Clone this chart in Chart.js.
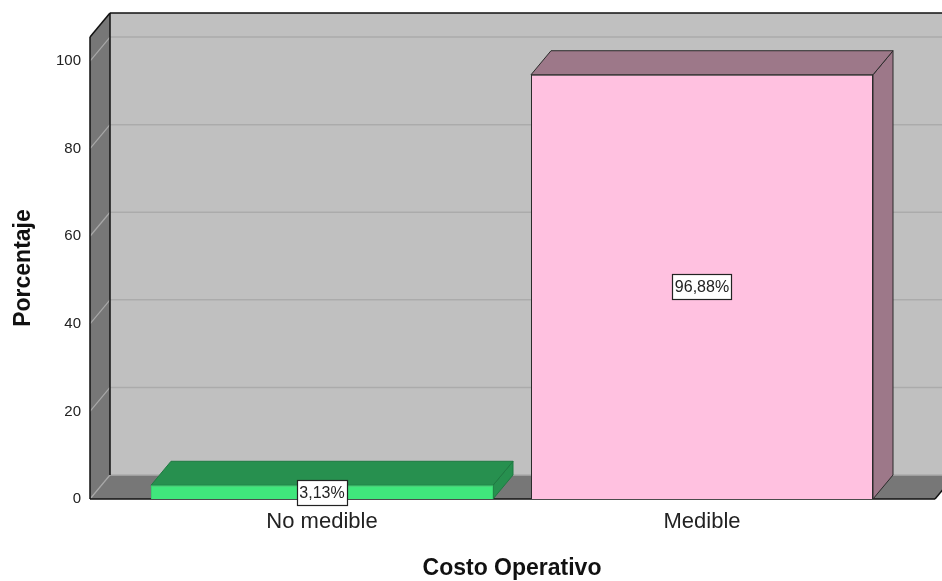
<!DOCTYPE html>
<html><head><meta charset="utf-8">
<script src="https://cdn.jsdelivr.net/npm/chart.js@4.4.0/dist/chart.umd.min.js"></script>
<style>html,body{margin:0;padding:0;background:#fff;} canvas{display:block;}</style>
</head><body>
<canvas id="c" width="942" height="581"></canvas>
<script>
// ---- data ----
const categories = ['No medible', 'Medible'];
const percentages = [3.13, 96.88];
const yTicks = [0, 20, 40, 60, 80, 100];
const yMax = 105.5;
const xTitle = 'Costo Operativo';
const yTitle = 'Porcentaje';

// ---- style ----
const FONT = "'Liberation Sans', Arial, sans-serif";
const DX = 20, DY = -24;
const LEFT_EXT = 42, RIGHT_EXT = 43;
const frontColors = ['#40E77C', '#FFC1E0'];
const shadeColors = ['#27904F', '#9D7889'];
const edgeColors = ['#3AD470', '#2b2b2b'];
const shadeEdge = ['#1f7a42', '#2b2b2b'];

function poly(ctx, pts, fill, stroke, lw) {
  ctx.beginPath();
  ctx.moveTo(pts[0][0], pts[0][1]);
  for (let i = 1; i < pts.length; i++) ctx.lineTo(pts[i][0], pts[i][1]);
  ctx.closePath();
  if (fill) { ctx.fillStyle = fill; ctx.fill(); }
  if (stroke) { ctx.strokeStyle = stroke; ctx.lineWidth = lw || 1; ctx.stroke(); }
}
function seg(ctx, x1, y1, x2, y2, color, lw) {
  ctx.beginPath();
  ctx.moveTo(x1, y1); ctx.lineTo(x2, y2);
  ctx.strokeStyle = color; ctx.lineWidth = lw; ctx.stroke();
}

const plugin3d = {
  id: 'threeD',
  beforeDatasetsDraw(chart) {
    const ctx = chart.ctx, a = chart.chartArea, y = chart.scales.y;
    const xl = a.left - LEFT_EXT, xr = a.right + RIGHT_EXT;
    const y0 = y.getPixelForValue(0), yt = a.top;
    const W = chart.width;
    ctx.save();
    ctx.fillStyle = '#C0C0C0';
    ctx.fillRect(xl + DX, yt + DY, W, y0 - yt);
    poly(ctx, [[xl, yt], [xl + DX, yt + DY], [xl + DX, y0 + DY], [xl, y0]], '#777777');
    poly(ctx, [[xl, y0], [xl + DX, y0 + DY], [xr + DX, y0 + DY], [xr, y0]], '#777777');
    yTicks.forEach(v => {
      const p = y.getPixelForValue(v);
      seg(ctx, xl + DX, p + DY, W, p + DY, '#ABABAB', 1.5);
      seg(ctx, xl, p, xl + DX, p + DY, '#A8A8A8', 1.2);
    });
    const E = '#111';
    seg(ctx, xl, yt, xl, y0, E, 1.5);
    seg(ctx, xl + DX, yt + DY, xl + DX, y0 + DY, E, 1.5);
    seg(ctx, xl, yt, xl + DX, yt + DY, E, 1.5);
    seg(ctx, xl + DX, yt + DY, W, yt + DY, E, 1.5);
    seg(ctx, xl, y0, xr, y0, E, 1.5);
    seg(ctx, xr, y0, xr + DX, y0 + DY, E, 1.5);
    const meta = chart.getDatasetMeta(0);
    meta.data.forEach((bar, i) => {
      const l = bar.x - bar.width / 2, r = bar.x + bar.width / 2, t = bar.y, b = bar.base;
      poly(ctx, [[r, t], [r + DX, t + DY], [r + DX, b + DY], [r, b]], shadeColors[i], shadeEdge[i], 1);
      poly(ctx, [[l, t], [l + DX, t + DY], [r + DX, t + DY], [r, t]], shadeColors[i], shadeEdge[i], 1);
    });
    ctx.restore();
  },
  afterDatasetsDraw(chart) {
    const ctx = chart.ctx;
    const meta = chart.getDatasetMeta(0);
    ctx.save();
    ctx.font = '16px ' + FONT;
    ctx.textAlign = 'center';
    ctx.textBaseline = 'middle';
    meta.data.forEach((bar, i) => {
      const txt = percentages[i].toFixed(2).replace('.', ',') + '%';
      const cx = bar.x, cy = (bar.y + bar.base) / 2;
      const w = ctx.measureText(txt).width + 5, h = 25;
      ctx.fillStyle = '#fff';
      ctx.fillRect(Math.round(cx - w / 2) + 0.5, Math.round(cy - h / 2) + 0.5, Math.round(w), h);
      ctx.strokeStyle = '#222'; ctx.lineWidth = 1.2;
      ctx.strokeRect(Math.round(cx - w / 2) + 0.5, Math.round(cy - h / 2) + 0.5, Math.round(w), h);
      ctx.fillStyle = '#222';
      ctx.fillText(txt, cx, cy + 1);
    });
    ctx.restore();
  }
};

new Chart(document.getElementById('c'), {
  type: 'bar',
  data: {
    labels: categories,
    datasets: [{
      data: percentages,
      backgroundColor: frontColors,
      borderColor: edgeColors,
      borderWidth: 1,
      categoryPercentage: 0.9,
      barPercentage: 1
    }]
  },
  options: {
    responsive: false,
    animation: false,
    layout: { padding: { top: 37, right: 50, left: 0, bottom: 0 } },
    plugins: { legend: { display: false }, tooltip: { enabled: false } },
    scales: {
      x: {
        grid: { display: false, drawTicks: false },
        border: { display: false },
        ticks: { padding: 10, color: '#222', font: { size: 22, family: FONT } },
        title: { display: true, text: xTitle, color: '#111', padding: { top: 0, bottom: 1 },
                 font: { size: 23, weight: 'bold', family: FONT, lineHeight: 1 } },
        afterFit(s) { s.height = 82; }
      },
      y: {
        min: 0, max: yMax,
        grid: { display: false, drawTicks: false },
        border: { display: false },
        ticks: { stepSize: 20, includeBounds: false, padding: 51, color: '#222', font: { size: 15, family: FONT } },
        title: { display: true, text: yTitle, color: '#111', padding: { top: 12, bottom: 0 },
                 font: { size: 23, weight: 'bold', family: FONT, lineHeight: 1 } },
        afterFit(s) { s.width = 132; s.paddingTop = 0; s.paddingBottom = 0; }
      }
    }
  },
  plugins: [plugin3d]
});
</script>
</body></html>
